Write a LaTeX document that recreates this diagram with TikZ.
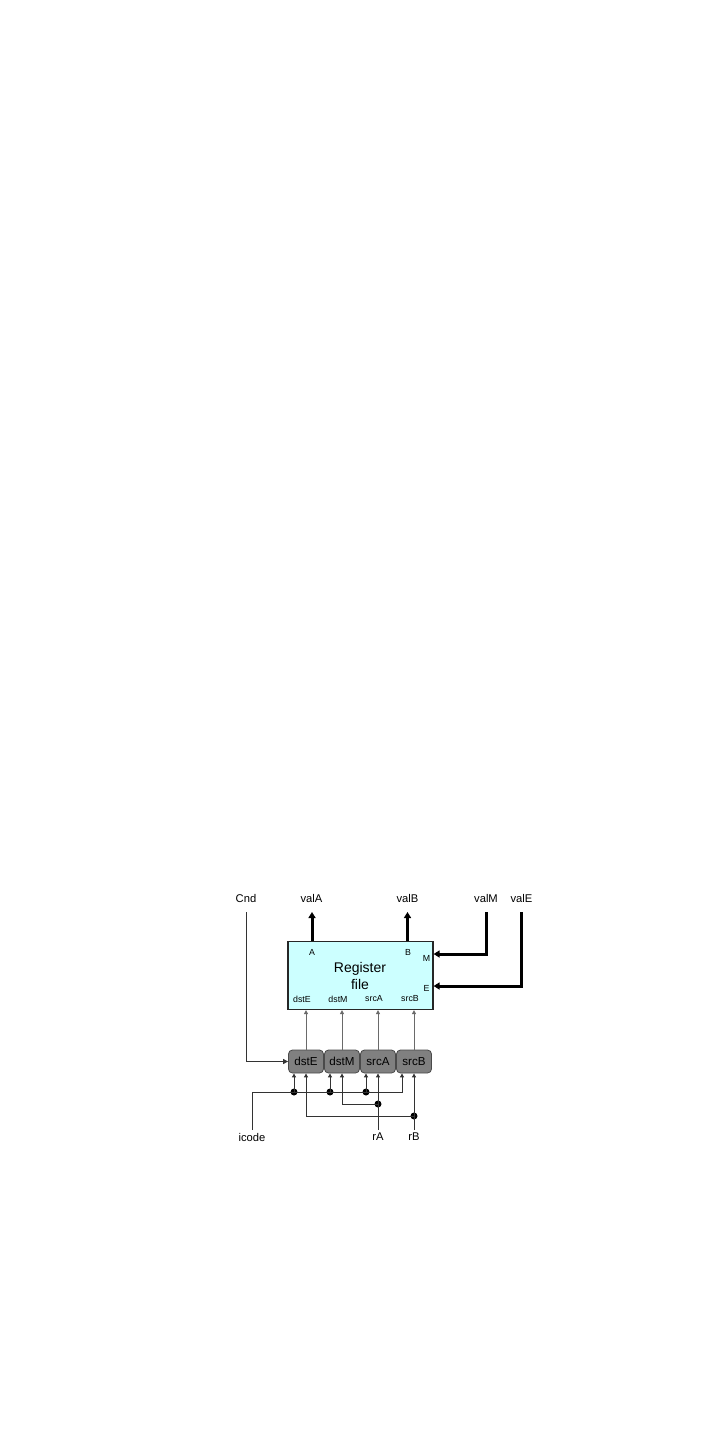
\documentclass[tikz,border=0pt]{standalone}
\usepackage{fontspec}
\setmainfont{Liberation Sans}
\usetikzlibrary{arrows.meta}
\definecolor{regcyan}{HTML}{CCFFFF}
\definecolor{boxgray}{HTML}{808080}
\definecolor{boxborder}{HTML}{4A4A4A}
\definecolor{wiregray}{HTML}{6A6A6A}
\begin{document}
\begin{tikzpicture}[x=0.5pt,y=-0.5pt,
  lbl/.style={font=\fontsize{5.6}{6}\selectfont, inner sep=0},
  small/.style={font=\fontsize{4.4}{5}\selectfont, inner sep=0},
  regbox/.style={draw=black!85, line width=0.6pt, fill=regcyan, minimum width=72.5pt, minimum height=34pt, inner sep=0},
  ctl/.style={draw=boxborder, fill=boxgray, rounded corners=2pt, minimum width=17.5pt, minimum height=11.5pt, inner sep=0, font=\fontsize{5.8}{6}\selectfont, line width=0.4pt},
  bus/.style={line width=1.5pt, -{Triangle[length=3pt,width=3.5pt]}},
  sig/.style={draw=wiregray, line width=0.5pt, -{Triangle[length=2pt,width=2pt]}},
  wire/.style={draw=black!80, line width=0.5pt},
  tip/.style={-{Triangle[length=2pt,width=2pt]}},
  dotn/.style={circle, fill=black, inner sep=0, minimum size=3.5pt}
]
\useasboundingbox (0,0) rectangle (720,1440);

% register file
\node[regbox] (reg) at (360.5,975.5) {};
\node[font=\fontsize{7}{8.5}\selectfont, align=center, inner sep=0] (regtxt) at (360,976) {Register\\file};
\node[small] (pA) at (312,952) {A};
\node[small] (pB) at (408,952) {B};
\node[small] (pM) at (426.5,958) {M};
\node[small] (pE) at (426.5,988) {E};
\node[small] (pdstE) at (302,999) {dstE};
\node[small] (pdstM) at (338,999) {dstM};
\node[small] (psrcA) at (374,999) {srcA};
\node[small] (psrcB) at (410,999) {srcB};

% top labels
\node[lbl] (cnd) at (246,898) {Cnd};
\node[lbl] (valA) at (311.5,898) {valA};
\node[lbl] (valB) at (407.5,898) {valB};
\node[lbl] (valM) at (486,898) {valM};
\node[lbl] (valE) at (521.5,898) {valE};

% control boxes
\node[ctl] (dstE) at (306,1061.5) {dstE};
\node[ctl] (dstM) at (342,1061.5) {dstM};
\node[ctl] (srcA) at (378,1061.5) {srcA};
\node[ctl] (srcB) at (414,1061.5) {srcB};

% bottom labels
\node[lbl] (icode) at (252,1137) {icode};
\node[lbl] (rA) at (378,1137) {rA};
\node[lbl] (rB) at (414,1137) {rB};

% free ends
\coordinate (aTop) at (312,912);
\coordinate (bTop) at (407.5,912);
\coordinate (mTop) at (486,912);
\coordinate (eTop) at (521.5,912);
\coordinate (cTop) at (246,912);
\coordinate (iBot) at (252,1130);
\coordinate (rABot) at (378,1130);
\coordinate (rBBot) at (414,1130);

% buses
\draw[bus] (reg.north -| aTop) -- (aTop);
\draw[bus] (reg.north -| bTop) -- (bTop);
\draw[bus] (mTop) |- (reg.east |- 0,954);
\draw[bus] (eTop) |- (reg.east |- 0,986);

% Cnd
\draw[wire, -{Triangle[length=2.5pt,width=2.5pt]}] (cTop) |- (dstE.west);

% box outputs to register file
\foreach \b in {dstE,dstM,srcA,srcB}{
  \draw[sig] (\b.north) -- (\b.north |- reg.south);
}

% icode distribution
\node[dotn] (d1) at (294,1092) {};
\node[dotn] (d2) at (330,1092) {};
\node[dotn] (d3) at (366,1092) {};
\draw[wire] (iBot) |- (d1.center) -- (d2.center) -- (d3.center);
\draw[wire, tip] (d3.center) -| (402,0 |- srcB.south);
\draw[wire, tip] (d1.center) -- (d1.center |- dstE.south);
\draw[wire, tip] (d2.center) -- (d2.center |- dstM.south);
\draw[wire, tip] (d3.center) -- (d3.center |- srcA.south);

% rA
\node[dotn] (dA) at (378,1104) {};
\draw[wire, tip] (rABot) -- (srcA.south);
\draw[wire, tip] (dA.center) -| (342,0 |- dstM.south);

% rB
\node[dotn] (dB) at (414,1116) {};
\draw[wire, tip] (rBBot) -- (srcB.south);
\draw[wire, tip] (dB.center) -| (306,0 |- dstE.south);
\end{tikzpicture}
\end{document}
